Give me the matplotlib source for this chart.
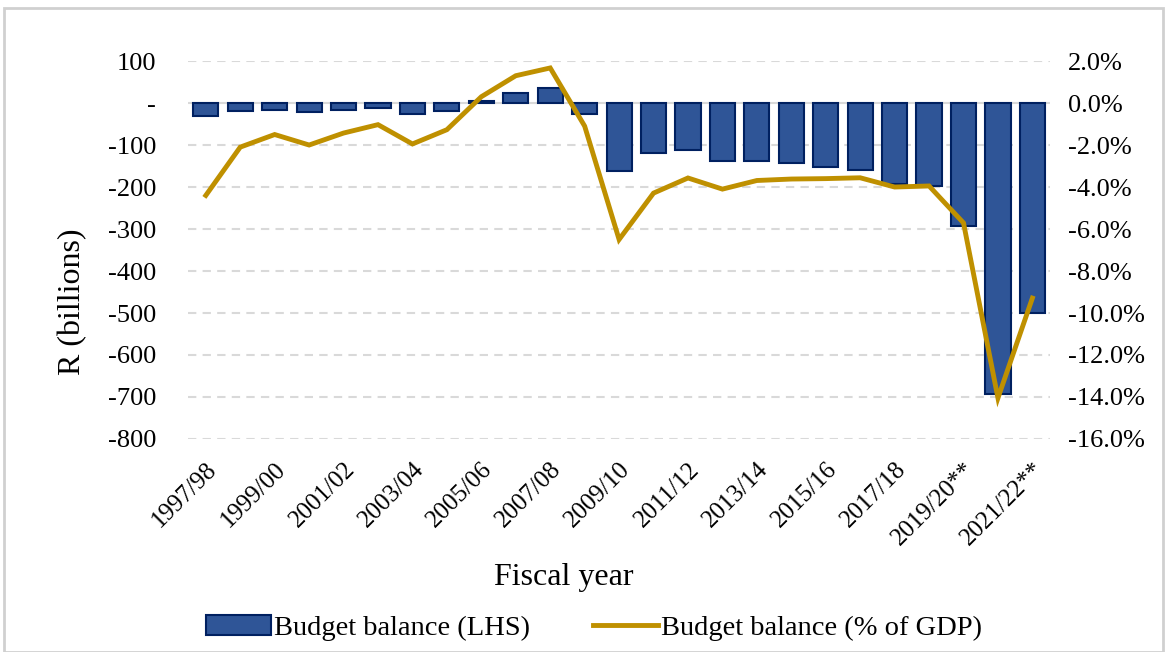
import matplotlib
matplotlib.use("Agg")
import matplotlib.pyplot as plt
from matplotlib.patches import Rectangle
from matplotlib.ticker import FixedLocator, FuncFormatter

plt.rcParams['font.family'] = ['Liberation Serif', 'DejaVu Serif']

years = ["1997/98", "1998/99", "1999/00", "2000/01", "2001/02", "2002/03", "2003/04",
         "2004/05", "2005/06", "2006/07", "2007/08", "2008/09", "2009/10", "2010/11",
         "2011/12", "2012/13", "2013/14", "2014/15", "2015/16", "2016/17", "2017/18",
         "2018/19", "2019/20**", "2020/21**", "2021/22**"]
balance_rbn = [-32, -18, -16, -22, -16, -12, -25, -20, 6, 25, 36, -25, -163, -119,
               -111, -139, -139, -143, -152, -159, -193, -198, -294, -692, -500]
balance_pct = [-4.4, -2.1, -1.5, -2.0, -1.43, -1.03, -1.95, -1.27, 0.3, 1.3, 1.67, -1.1,
               -6.5, -4.29, -3.57, -4.1, -3.69, -3.62, -3.6, -3.56, -4.0, -3.95, -5.71,
               -14.05, -9.29]
left_ticks = [100, 0, -100, -200, -300, -400, -500, -600, -700, -800]
right_ticks = [2, 0, -2, -4, -6, -8, -10, -12, -14, -16]

fig = plt.figure(figsize=(11.67, 6.52), dpi=100)
fig.patches.append(Rectangle((0.003, 0.0), 0.994, 0.988, transform=fig.transFigure,
                             fill=False, edgecolor='#d0d0d0', linewidth=2))
ax = fig.add_axes([0.161, 0.3267, 0.739, 0.5797])
x = list(range(len(years)))

for yv in left_ticks:
    if yv == 0:
        ax.axhline(0, color='#d9d9d9', lw=1.5, zorder=1)
    else:
        ax.axhline(yv, color='#d9d9d9', lw=1.5, ls=(0, (4, 3)), zorder=1)

bars = ax.bar(x, balance_rbn, width=0.73, color='#2f5597', edgecolor='#002060',
              linewidth=1.5, zorder=2, label='Budget balance (LHS)')
ax.set_ylim(-800, 100)
ax.set_xlim(-0.52, len(years) - 0.48)
ax.yaxis.set_major_locator(FixedLocator(left_ticks))
ax.yaxis.set_major_formatter(FuncFormatter(lambda v, p: '-' if v == 0 else f'{int(v)}'))
ax.set_xticks(x[::2])
ax.set_xticklabels(years[::2], rotation=45, ha='right', rotation_mode='anchor', fontsize=18)
ax.tick_params(axis='both', length=0, labelsize=19)
ax.tick_params(axis='x', pad=14)
ax.tick_params(axis='y', pad=23)
for lbl in ax.get_xticklabels():
    lbl.set_fontsize(18)
for s in ax.spines.values():
    s.set_visible(False)

ax2 = ax.twinx()
line, = ax2.plot(x, balance_pct, color='#bf9000', lw=3.5, zorder=3,
                 label='Budget balance (% of GDP)', solid_joinstyle='miter')
ax2.set_ylim(-16, 2)
ax2.yaxis.set_major_locator(FixedLocator(right_ticks))
ax2.yaxis.set_major_formatter(FuncFormatter(lambda v, p: f'{v:.1f}%'))
ax2.tick_params(axis='y', length=0, labelsize=19, pad=13)
for s in ax2.spines.values():
    s.set_visible(False)

fig.text(0.0626, 0.537, 'R (billions)', rotation=90, ha='center', va='center', fontsize=23)
fig.text(0.483, 0.115, 'Fiscal year', ha='center', va='center', fontsize=23)

fig.legend([bars, line], ['Budget balance (LHS)', 'Budget balance (% of GDP)'],
           loc='center', bbox_to_anchor=(0.509, 0.037), ncol=2, frameon=False,
           fontsize=20.5, handlelength=2.3, handletextpad=0.1, columnspacing=2.2)

fig.savefig('out.png', dpi=100)
